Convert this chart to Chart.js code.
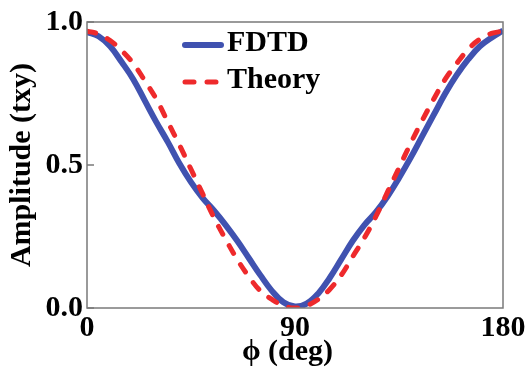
<!DOCTYPE html>
<html>
<head>
<meta charset="utf-8">
<script src="https://cdn.jsdelivr.net/npm/chart.js@4.4.0/dist/chart.umd.min.js"></script>
<style>
  html, body { margin: 0; padding: 0; background: #fff; }
  #wrap { width: 531px; height: 374px; }
</style>
</head>
<body>
<div id="wrap"><canvas id="chart"></canvas></div>
<script>
// phi in degrees, amplitude
var phiFdtd = [0, 5, 10, 15, 20, 25, 30, 35, 40, 45, 50, 55, 60, 65, 70, 75, 80, 85, 90,
               95, 100, 105, 110, 115, 120, 125, 130, 135, 140, 145, 150, 155, 160, 165, 170, 175, 180];
var ampFdtd = [0.965, 0.95, 0.915, 0.86, 0.80, 0.725, 0.65, 0.58, 0.505, 0.44, 0.385, 0.34, 0.29,
               0.235, 0.175, 0.115, 0.06, 0.02, 0.005,
               0.015, 0.05, 0.105, 0.17, 0.235, 0.29, 0.335, 0.39, 0.455, 0.525, 0.60, 0.675,
               0.75, 0.815, 0.87, 0.915, 0.945, 0.97];

var phiTheory = [0, 5, 10, 15, 20, 25, 30, 35, 40, 45, 50, 55, 60, 65, 70, 75, 80, 85, 90,
                 95, 100, 105, 110, 115, 120, 125, 130, 135, 140, 145, 150, 155, 160, 165, 170, 175, 180];
var ampTheory = [0.968, 0.958, 0.935, 0.90, 0.855, 0.795, 0.73, 0.65, 0.57, 0.485, 0.40, 0.315,
                 0.24, 0.17, 0.11, 0.06, 0.03, 0.008, 0.0,
                 0.008, 0.03, 0.065, 0.115, 0.18, 0.245, 0.32, 0.405, 0.49, 0.575, 0.655, 0.73,
                 0.80, 0.855, 0.905, 0.94, 0.96, 0.968];

var xTicks = [0, 90, 180];
var yTicks = [0, 0.5, 1.0];

var serif = '"Liberation Serif", "Times New Roman", serif';

function toPoints(xs, ys) {
    return xs.map(function (x, i) {
        return { x: x, y: ys[i] };
    });
}

// frame round the plot plus small inward ticks
var framePlugin = {
    id: 'frame',
    afterDatasetsDraw: function (chart) {
        var ctx = chart.ctx;
        var a = chart.chartArea;
        var y = chart.scales.y;
        ctx.save();
        ctx.strokeStyle = '#7a7a7a';
        ctx.lineWidth = 1.5;
        ctx.strokeRect(a.left, a.top, a.right - a.left, a.bottom - a.top);
        ctx.beginPath();
        yTicks.forEach(function (v) {
            var py = y.getPixelForValue(v);
            ctx.moveTo(a.left, py);
            ctx.lineTo(a.left + 7, py);
        });
        ctx.stroke();
        ctx.restore();
    }
};

// legend sitting inside the plot
var innerLegend = {
    id: 'innerLegend',
    afterDraw: function (chart) {
        var ctx = chart.ctx;
        var rows = [0, 1];
        ctx.save();
        rows.forEach(function (i) {
            var ds = chart.data.datasets[i];
            var y = 45 + i * 37;
            ctx.beginPath();
            ctx.strokeStyle = ds.borderColor;
            ctx.lineWidth = ds.borderWidth;
            ctx.lineCap = 'round';
            ctx.setLineDash(ds.borderDash || []);
            ctx.moveTo(185, y);
            ctx.lineTo(221, y);
            ctx.stroke();
            ctx.setLineDash([]);
            ctx.fillStyle = '#000';
            ctx.font = 'bold 30px ' + serif;
            ctx.textBaseline = 'alphabetic';
            ctx.textAlign = 'left';
            ctx.fillText(ds.label, 227, y + 6);
        });
        ctx.restore();
    }
};

new Chart(document.getElementById('chart'), {
    type: 'line',
    data: {
        datasets: [
            {
                label: 'FDTD',
                data: toPoints(phiFdtd, ampFdtd),
                borderColor: '#4052b0',
                borderWidth: 6,
                pointRadius: 0,
                tension: 0.4,
                order: 1
            },
            {
                label: 'Theory',
                data: toPoints(phiTheory, ampTheory),
                borderColor: '#ee2a2c',
                borderWidth: 5,
                borderDash: [9, 13],
                borderCapStyle: 'round',
                pointRadius: 0,
                tension: 0.4,
                order: 0
            }
        ]
    },
    options: {
        responsive: true,
        maintainAspectRatio: false,
        animation: false,
        layout: {
            padding: { top: 21, right: 28, left: 0, bottom: 0 }
        },
        plugins: {
            legend: { display: false },
            tooltip: { enabled: false }
        },
        scales: {
            x: {
                type: 'linear',
                min: 0,
                max: 180,
                afterBuildTicks: function (scale) {
                    scale.ticks = xTicks.map(function (v) { return { value: v }; });
                },
                afterFit: function (scale) {
                    scale.height = 66;
                },
                grid: { display: false, drawTicks: false },
                border: { display: false },
                ticks: {
                    padding: 2,
                    maxRotation: 0,
                    color: '#000',
                    font: { family: serif, size: 30, weight: 'bold' }
                },
                title: {
                    display: true,
                    // trailing spaces nudge the centred title a little left, as in the figure
                    text: 'ϕ (deg)  ',
                    color: '#000',
                    padding: { top: 0, bottom: 4 },
                    font: { family: serif, size: 30, weight: 'bold' }
                }
            },
            y: {
                min: 0,
                max: 1,
                afterBuildTicks: function (scale) {
                    scale.ticks = yTicks.map(function (v) { return { value: v }; });
                },
                afterFit: function (scale) {
                    scale.width = 87;
                },
                grid: { display: false, drawTicks: false },
                border: { display: false },
                ticks: {
                    padding: 4,
                    color: '#000',
                    font: { family: serif, size: 30, weight: 'bold' },
                    callback: function (v) { return Number(v).toFixed(1); }
                },
                title: {
                    display: true,
                    text: 'Amplitude (txy)',
                    color: '#000',
                    padding: { top: 4, bottom: 0 },
                    font: { family: serif, size: 30, weight: 'bold' }
                }
            }
        }
    },
    plugins: [framePlugin, innerLegend]
});
</script>
</body>
</html>
